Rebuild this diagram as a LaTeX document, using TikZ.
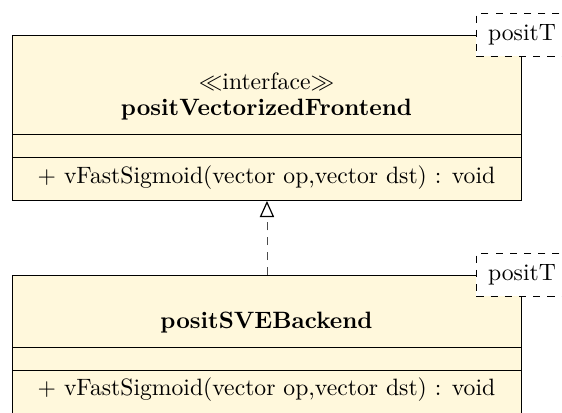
\documentclass[tikz,border=0pt]{standalone}
\usetikzlibrary{arrows.meta}
\definecolor{classfill}{RGB}{255,248,220}
\begin{document}
\begin{tikzpicture}[x=0.4226pt,y=-0.4226pt,
  classbox/.style={draw=black,fill=classfill,rectangle,inner sep=0pt,
    minimum width=509*0.4226pt,minimum height=165*0.4226pt,anchor=north west},
  templbox/.style={draw=black,dashed,fill=white,rectangle,inner sep=0pt,
    minimum width=91*0.4226pt,minimum height=43*0.4226pt},
  classtext/.style={inner sep=0pt,anchor=center},
  realize/.style={draw=black!70,dash pattern=on 3.3pt off 3pt,
    -{Triangle[open,length=6.8pt,width=6pt,line width=0.5pt,black]}}]
\useasboundingbox (0,0) rectangle (562,413);
\clip (0,0) rectangle (562,413);

% interface class
\node[classbox] (front) at (12,35) {};
\draw (front.west |- 0,134) -- (front.east |- 0,134);
\draw (front.west |- 0,157) -- (front.east |- 0,157);
\node[classtext] (frontst) at (266.5,82) {$\ll$interface$\gg$};
\node[classtext] (frontname) at (266.5,110) {\textbf{positVectorizedFrontend}};
\node[classtext] (frontop) at (266.5,178) {$+$ vFastSigmoid(vector op,vector dst) : void};
\node[templbox] (fronttp) at (front.north east) {positT};

% implementing class
\node[classbox] (back) at (12,275) {};
\draw (back.west |- 0,347) -- (back.east |- 0,347);
\draw (back.west |- 0,370) -- (back.east |- 0,370);
\node[classtext] (backname) at (266.5,323) {\textbf{positSVEBackend}};
\node[classtext] (backop) at (266.5,390) {$+$ vFastSigmoid(vector op,vector dst) : void};
\node[templbox] (backtp) at (back.north east) {positT};

% realization
\draw[realize] (back.north) -- (front.south);
\end{tikzpicture}
\end{document}
